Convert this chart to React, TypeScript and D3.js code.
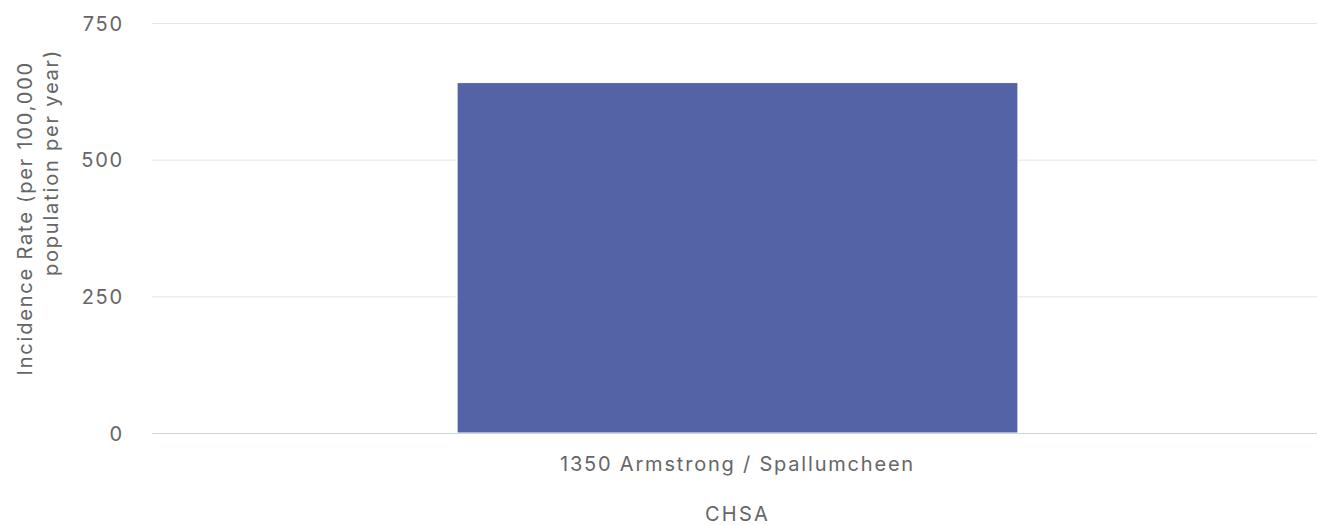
import React, { useEffect, useRef } from 'react';
import * as d3 from 'd3';

const categories = ['1350 Armstrong / Spallumcheen'];
const values = [641];
const yTicks = [0, 250, 500, 750];
const yTitleLines = ['Incidence Rate (per 100,000', 'population per year)'];
const xTitle = 'CHSA';

const W = 1317;
const H = 525;

const App = () => {
  const ref = useRef<SVGSVGElement>(null);

  useEffect(() => {
    if (!ref.current) return;
    const svg = d3.select(ref.current);
    svg.selectAll('*').remove();

    const margin = { top: 23, right: 0, bottom: 92, left: 152 };
    const width = W - margin.left - margin.right;
    const height = H - margin.top - margin.bottom;
    const font = 'Inter, "DejaVu Sans", sans-serif';
    const txt = (sel: any, size = 20, ls = 1.8) =>
      sel
        .style('font-family', font)
        .style('font-size', `${size}px`)
        .style('letter-spacing', `${ls}px`)
        .attr('fill', '#666666');

    const g = svg.append('g').attr('transform', `translate(${margin.left},${margin.top})`);

    // plot area runs slightly past the right edge, as in the original
    const x = d3.scaleBand().domain(categories).range([0, width + 6]).paddingInner(0).paddingOuter(0.544);
    const y = d3.scaleLinear().domain([0, 750]).range([height, 0]);

    // gridlines
    g.selectAll('.grid')
      .data(yTicks.slice(1))
      .enter()
      .append('line')
      .attr('x1', 0)
      .attr('x2', width)
      .attr('y1', d => y(d) + 0.5)
      .attr('y2', d => y(d) + 0.5)
      .attr('stroke', '#e6e6e6')
      .attr('stroke-width', 1);

    // y labels
    txt(
      g.selectAll('.ylab')
        .data(yTicks)
        .enter()
        .append('text')
        .attr('x', -28)
        .attr('y', d => y(d))
        .attr('dy', '0.38em')
        .attr('text-anchor', 'end')
    ).text(d => String(d));

    // bars
    g.selectAll('.bar')
      .data(values)
      .enter()
      .append('rect')
      .attr('x', (d, i) => x(categories[i])!)
      .attr('y', d => y(d))
      .attr('width', x.bandwidth())
      .attr('height', d => height - y(d))
      .attr('fill', '#5463a5')
      .attr('stroke', '#ffffff')
      .attr('stroke-width', 1);

    // x axis line
    g.append('line')
      .attr('x1', 0)
      .attr('x2', width)
      .attr('y1', height + 0.5)
      .attr('y2', height + 0.5)
      .attr('stroke', '#ccd6eb');

    // x labels
    txt(
      g.selectAll('.xlab')
        .data(categories)
        .enter()
        .append('text')
        .attr('x', d => x(d)! + x.bandwidth() / 2)
        .attr('y', height + 38)
        .attr('text-anchor', 'middle')
    ).text(d => d);

    // x title
    txt(
      g.append('text')
        .attr('x', x(categories[0])! + x.bandwidth() / 2)
        .attr('y', height + 88)
        .attr('text-anchor', 'middle'),
      20,
      2.2
    ).text(xTitle);

    // y title (lines aligned to the top end)
    const yt = txt(
      svg.append('text')
        .attr('transform', `translate(0,61) rotate(-90)`)
        .attr('text-anchor', 'end')
    );
    yTitleLines.forEach((line, i) => {
      yt.append('tspan')
        .attr('x', i === 0 ? 0 : 12)
        .attr('y', i === 0 ? 32 : 58)
        .text(line);
    });
  }, []);

  return (
    <svg
      ref={ref}
      width={W}
      height={H}
      style={{ position: 'absolute', left: 0, top: 0, background: '#ffffff' }}
    />
  );
};

export default App;
